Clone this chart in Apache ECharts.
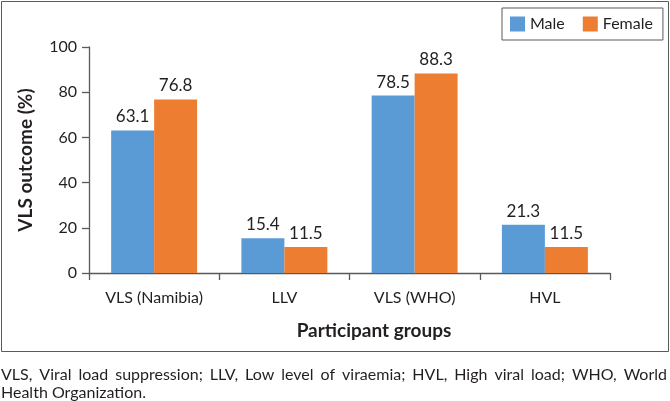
<!DOCTYPE html>
<html>
<head>
<meta charset="utf-8">
<script src="https://cdn.jsdelivr.net/npm/echarts@6/dist/echarts.min.js"></script>
<style>
  html, body { margin: 0; padding: 0; background: #fff; }
  #chart { width: 670px; height: 401px; }
</style>
</head>
<body>
<div id="chart"></div>
<script>
const categories = ['VLS (Namibia)', 'LLV', 'VLS (WHO)', 'HVL'];
const maleValues = [63.1, 15.4, 78.5, 21.3];
const femaleValues = [76.8, 11.5, 88.3, 11.5];
const yTicks = [0, 20, 40, 60, 80, 100];

const captionLine1 = 'VLS, Viral load suppression; LLV, Low level of viraemia; HVL, High viral load; WHO, World';
const captionLine2 = 'Health Organization.';

const FONT = 'Lato, "Open Sans", sans-serif';
const TEXT = '#231f20';
const AXIS = '#5a5a5a';

// spread the words of a line across a width, like justified text
const justifyLine = (line, x0, x1, y, size) => {
    const ctx = document.createElement('canvas').getContext('2d');
    ctx.font = size + 'px Lato';
    const words = line.split(' ');
    const widths = words.map(w => ctx.measureText(w).width);
    const total = widths.reduce((a, b) => a + b, 0);
    const gap = (x1 - x0 - total) / (words.length - 1);
    let x = x0;
    return words.map((w, i) => {
        const el = {
            type: 'text', x: x, y: y,
            style: { text: w, font: size + 'px ' + FONT, fill: TEXT, textVerticalAlign: 'middle' }
        };
        x += widths[i] + gap;
        return el;
    });
};

const chart = echarts.init(document.getElementById('chart'));

const build = () => {
    chart.setOption({
        animation: false,
        textStyle: { fontFamily: FONT, color: TEXT },
        grid: { left: 89, right: 60, top: 47, bottom: 128 },
        legend: {
            data: ['Male', 'Female'],
            left: 502, top: 8,
            padding: [8, 10, 8, 8],
            borderColor: AXIS, borderWidth: 1,
            itemWidth: 15, itemHeight: 15, itemGap: 18,
            icon: 'rect',
            textStyle: { fontSize: 16, color: TEXT, fontFamily: FONT }
        },
        xAxis: {
            type: 'category',
            data: categories,
            axisLine: { lineStyle: { color: AXIS, width: 1.3 } },
            axisTick: { show: true, length: 7, lineStyle: { color: AXIS, width: 1.3 } },
            axisLabel: { fontSize: 16, color: TEXT, margin: 17 }
        },
        yAxis: {
            type: 'value',
            min: yTicks[0], max: yTicks[yTicks.length - 1], interval: 20,
            name: 'VLS outcome (%)',
            nameLocation: 'middle', nameGap: 54, nameRotate: 90,
            nameTextStyle: { fontSize: 19, fontWeight: 'bold', color: TEXT },
            splitLine: { show: false },
            axisLine: { show: true, lineStyle: { color: AXIS, width: 1.3 } },
            axisTick: { show: true, length: 7, lineStyle: { color: AXIS, width: 1.3 } },
            axisLabel: { fontSize: 16, color: TEXT, margin: 12 }
        },
        series: [
            {
                name: 'Male', type: 'bar', data: maleValues,
                barGap: '0%', barCategoryGap: '34%',
                itemStyle: { color: '#5b9bd5' },
                label: { show: true, position: 'top', distance: 5, fontSize: 17, color: TEXT, formatter: p => p.value.toFixed(1) }
            },
            {
                name: 'Female', type: 'bar', data: femaleValues,
                itemStyle: { color: '#ed7d31' },
                label: { show: true, position: 'top', distance: 5, fontSize: 17, color: TEXT, formatter: p => p.value.toFixed(1) }
            }
        ],
        graphic: [
            {
                type: 'rect', shape: { x: 1.5, y: 1.5, width: 667, height: 350 },
                style: { fill: null, stroke: AXIS, lineWidth: 1 }, silent: true
            },
            {
                type: 'text', x: 374, y: 331,
                style: { text: 'Participant groups', font: 'bold 19px ' + FONT, fill: TEXT, textAlign: 'center', textVerticalAlign: 'middle' }
            },
            ...justifyLine(captionLine1, 1, 667, 375, 16),
            {
                type: 'text', x: 1, y: 393,
                style: { text: captionLine2, font: '16px ' + FONT, fill: TEXT, textVerticalAlign: 'middle' }
            }
        ]
    });
};

if (document.fonts && document.fonts.load) {
    document.fonts.load('16px Lato').then(build, build);
} else {
    build();
}
</script>
</body>
</html>
